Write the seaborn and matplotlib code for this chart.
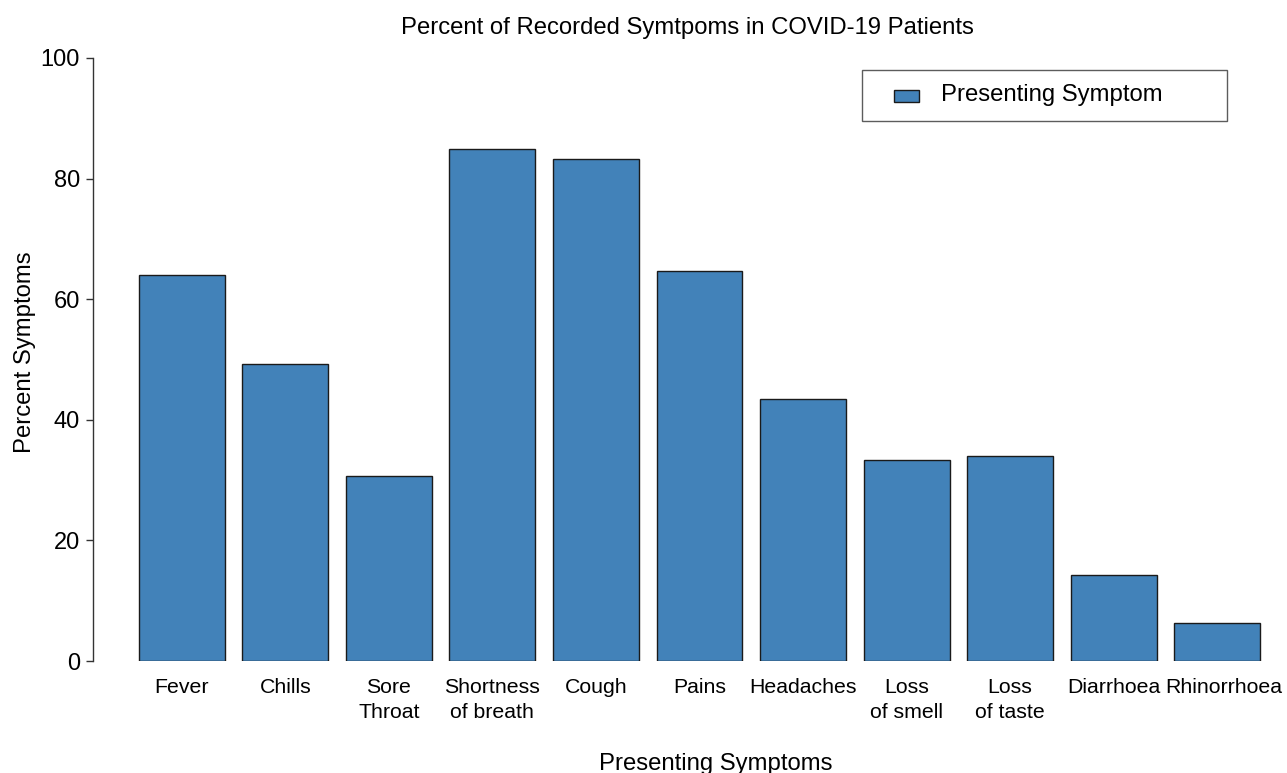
import matplotlib
matplotlib.use("Agg")
import matplotlib.pyplot as plt
import matplotlib.patches as mpatches
import matplotlib.transforms as mtransforms
from matplotlib.legend_handler import HandlerPatch, update_from_first_child
from matplotlib.container import BarContainer
import seaborn as sns
import pandas as pd

categories = ["Fever", "Chills", "Sore\nThroat", "Shortness\nof breath", "Cough", "Pains",
              "Headaches", "Loss\nof smell", "Loss\nof taste", "Diarrhoea", "Rhinorrhoea"]
percent = [64.0, 49.2, 30.7, 84.9, 83.2, 64.6, 43.4, 33.3, 34.0, 14.3, 6.3]
series_label = "Presenting Symptom"
yticks = [0, 20, 40, 60, 80, 100]

sns.set_style("white")
plt.rcParams['font.family'] = ['Liberation Sans', 'DejaVu Sans']
plt.rcParams['text.color'] = 'black'
plt.rcParams['axes.labelcolor'] = 'black'
plt.rcParams['xtick.color'] = 'black'
plt.rcParams['ytick.color'] = 'black'

df = pd.DataFrame({"Symptom": categories, "Percent": percent})

fig = plt.figure(figsize=(12.87, 7.73), dpi=100)
ax = fig.add_axes([130/1287, 1 - 661/773, (1269 - 130)/1287, (661 - 58)/773])

sns.barplot(data=df, x="Symptom", y="Percent", color="#4282B9", saturation=1,
            edgecolor="#1a1a1a", linewidth=1.0, width=0.83, label=series_label, ax=ax)

ax.set_ylim(0, 100)
ax.set_xlim(-0.5, len(categories) - 0.5)
ax.set_yticks(yticks)
ax.set_yticklabels([str(t) for t in yticks])
ax.tick_params(axis='y', which='both', direction='out', length=5, width=1,
               color='#333333', left=True, pad=4, labelsize=17, labelcolor='black')
ax.tick_params(axis='x', length=0, labelsize=15.3, pad=12, labelcolor='black')
xlabels = ax.get_xticklabels()
for lbl in xlabels:
    lbl.set_linespacing(1.45)
# nudge the last label slightly right, as in the reference
xlabels[-1].set_transform(xlabels[-1].get_transform() +
                          mtransforms.ScaledTranslation(7/100, 0, fig.dpi_scale_trans))

for s in ["top", "right", "bottom"]:
    ax.spines[s].set_visible(False)
ax.spines["left"].set_position(("outward", 27))
ax.spines["left"].set_color("#333333")
ax.spines["left"].set_linewidth(1)

ax.set_title("Percent of Recorded Symtpoms in COVID-19 Patients", fontsize=17.2,
             pad=17, x=(687 - 130)/1139, color='black')
ax.set_ylabel("Percent Symptoms", fontsize=17.2)
ax.set_xlabel("Presenting Symptoms", fontsize=17.2)
ax.yaxis.set_label_coords(-0.0826, (661 - 352)/603)
ax.xaxis.set_label_coords((716 - 130)/1139, -0.153)


def small_rect(legend, orig_handle, xdescent, ydescent, width, height, fontsize):
    w = width * 0.6
    h = height * 0.7
    return mpatches.Rectangle((-xdescent + width - w, -ydescent + (height - h) / 2 - 2), w, h)


handler = HandlerPatch(patch_func=small_rect, update_func=update_from_first_child)

x0 = (862 - 130)/1139
w = (1227 - 862)/1139
y1 = (661 - 70)/603
leg = ax.legend(loc="upper left", bbox_to_anchor=(x0, y1 - 0.09, w, 0.09), mode="expand",
                fontsize=17.2, frameon=True, fancybox=False, edgecolor="#333333",
                borderpad=0.6, handlelength=1.8, handleheight=0.7, handletextpad=0.92,
                borderaxespad=0.0,
                handler_map={BarContainer: handler, mpatches.Rectangle: handler})
leg.get_frame().set_linewidth(1)
for t in leg.get_texts():
    t.set_color('black')

fig.savefig("out.png", dpi=100)
